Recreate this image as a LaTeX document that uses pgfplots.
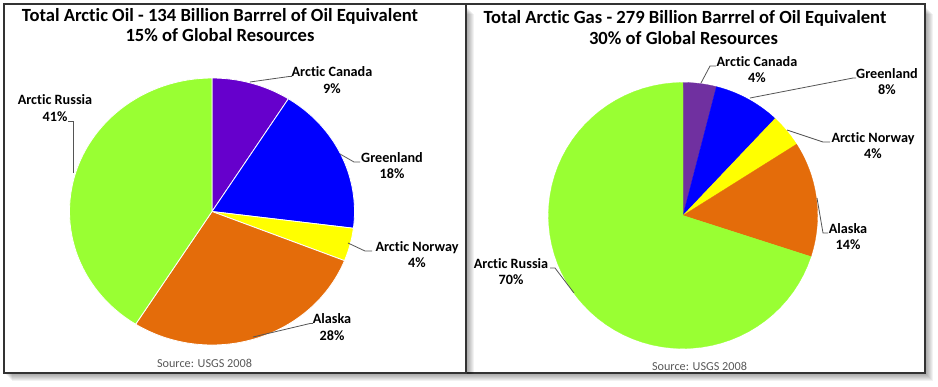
\documentclass[border=0pt]{standalone}
\usepackage{pgfplots}
\pgfplotsset{compat=1.18}
\usepackage{fontspec}
\setmainfont{Carlito}[Ligatures=NoCommon]
\definecolor{oilcan}{HTML}{6600CC}
\definecolor{gascan}{HTML}{7030A0}
\definecolor{pblue}{HTML}{0000FF}
\definecolor{pyellow}{HTML}{FFFF00}
\definecolor{porange}{HTML}{E46C0A}
\definecolor{pgreen}{HTML}{99FF33}
\definecolor{lead}{HTML}{555555}
\definecolor{frame}{HTML}{333333}
\definecolor{srcgray}{HTML}{595959}
% data: shares in percent (Canada, Greenland, Norway, Alaska, Russia)
\def\oilCanada{9}\def\oilGreenland{18}\def\oilNorway{4}\def\oilAlaska{28}\def\oilRussia{41}
\def\gasCanada{4}\def\gasGreenland{8}\def\gasNorway{4}\def\gasAlaska{14}\def\gasRussia{70}
% slice: color, cx, cy, rx, ry, a0, a1, edge style
\newcommand\slice[8]{%
  \addplot[fill=#1, #8, domain=#6:#7, samples=60, variable=\t]
    ({#2+#4*sin(\t)},{#3-#5*cos(\t)}) -- (axis cs:#2,#3) -- cycle;}
\tikzset{ttl/.style={anchor=base, font=\fontsize{18.6}{20}\selectfont\bfseries},
  lab/.style={anchor=base, font=\fontsize{14.2}{15}\selectfont\bfseries},
  src/.style={anchor=base, text=srcgray, font=\fontsize{12.2}{13}\selectfont},
  ld/.style={draw=lead, line width=0.8pt}}
\begin{document}
\begin{tikzpicture}
\pgfmathsetmacro\oA{3.6*\oilCanada}
\pgfmathsetmacro\oB{\oA+3.6*\oilGreenland}
\pgfmathsetmacro\oC{\oB+3.6*\oilNorway}
\pgfmathsetmacro\oD{\oC+3.6*\oilAlaska}
\pgfmathsetmacro\oE{\oD+3.6*\oilRussia}
\pgfmathsetmacro\gA{3.6*\gasCanada}
\pgfmathsetmacro\gB{\gA+3.6*\gasGreenland}
\pgfmathsetmacro\gC{\gB+3.6*\gasNorway}
\pgfmathsetmacro\gD{\gC+3.6*\gasAlaska}
\pgfmathsetmacro\gE{\gD+3.6*\gasRussia}
\pgfplotsset{pieaxis/.style={x=1pt, y=1pt, xmin=0, xmax=938, ymin=0, ymax=386,
  y dir=reverse, hide axis, clip=false}}
% ---------------- left chart: oil ----------------
\begin{axis}[pieaxis]
\fill[white] (axis cs:0,0) rectangle (axis cs:938,386);
% right panel shadow + frame
\fill[black,opacity=0.05] (axis cs:467,7) rectangle (axis cs:926,374);
\fill[black,opacity=0.05] (axis cs:468,8) rectangle (axis cs:927,375);
\fill[black,opacity=0.05] (axis cs:469,9) rectangle (axis cs:928,376);
\fill[black,opacity=0.05] (axis cs:470,10) rectangle (axis cs:929,377);
\fill[black,opacity=0.05] (axis cs:471,11) rectangle (axis cs:930,378);
\fill[black,opacity=0.05] (axis cs:472,12) rectangle (axis cs:931,379);
\fill[black,opacity=0.05] (axis cs:473,13) rectangle (axis cs:932,380);
\fill[black,opacity=0.05] (axis cs:474,14) rectangle (axis cs:933,381);
\filldraw[fill=white, draw=frame, line width=1.2pt] (axis cs:466,4) rectangle (axis cs:925,373);
% left panel shadow + frame
\fill[black,opacity=0.05] (axis cs:5,7) rectangle (axis cs:467,374);
\fill[black,opacity=0.05] (axis cs:6,8) rectangle (axis cs:468,375);
\fill[black,opacity=0.05] (axis cs:7,9) rectangle (axis cs:469,376);
\fill[black,opacity=0.05] (axis cs:8,10) rectangle (axis cs:470,377);
\fill[black,opacity=0.05] (axis cs:9,11) rectangle (axis cs:471,378);
\fill[black,opacity=0.05] (axis cs:10,12) rectangle (axis cs:472,379);
\fill[black,opacity=0.05] (axis cs:11,13) rectangle (axis cs:473,380);
\fill[black,opacity=0.05] (axis cs:12,14) rectangle (axis cs:474,381);
\filldraw[fill=white, draw=frame, line width=1.2pt] (axis cs:4,4) rectangle (axis cs:466,373);
% pie
\slice{oilcan}{212}{211.5}{142.5}{133.5}{0}{\oA}{draw=white, line width=0.8pt}
\slice{pblue}{212}{211.5}{142.5}{133.5}{\oA}{\oB}{draw=white, line width=0.8pt}
\slice{pyellow}{212}{211.5}{142.5}{133.5}{\oB}{\oC}{draw=white, line width=0.8pt}
\slice{porange}{212}{211.5}{142.5}{133.5}{\oC}{\oD}{draw=white, line width=0.8pt}
\slice{pgreen}{212}{211.5}{142.5}{133.5}{\oD}{\oE}{draw=white, line width=0.8pt}
% titles
\node[ttl] at (axis cs:220,21) {Total Arctic Oil - 134 Billion Barrrel of Oil Equivalent};
\node[ttl] at (axis cs:220,41.5) {15\% of Global Resources};
% leaders
\draw[ld] (axis cs:250,82) -- (axis cs:289,76.5) -- (axis cs:292,76.5);
\draw[ld] (axis cs:340,154) -- (axis cs:354,162) -- (axis cs:360,162);
\draw[ld] (axis cs:348,243) -- (axis cs:365,251) -- (axis cs:372,251);
\draw[ld] (axis cs:253,337) -- (axis cs:310,323.5) -- (axis cs:313,323.5);
\draw[ld] (axis cs:68,121) -- (axis cs:73.3,121) -- (axis cs:73.3,173);
% labels
\node[lab] at (axis cs:332,76.5) {Arctic Canada};
\node[lab] at (axis cs:332,93) {\oilCanada\%};
\node[lab] at (axis cs:392,162) {Greenland};
\node[lab] at (axis cs:392,178.5) {\oilGreenland\%};
\node[lab] at (axis cs:417,251) {Arctic Norway};
\node[lab] at (axis cs:417,267.5) {\oilNorway\%};
\node[lab] at (axis cs:332,323.5) {Alaska};
\node[lab] at (axis cs:332,340) {\oilAlaska\%};
\node[lab] at (axis cs:55,104.5) {Arctic Russia};
\node[lab] at (axis cs:55,121) {\oilRussia\%};
\node[src] at (axis cs:204.5,367.5) {Source: USGS 2008};
\end{axis}
% ---------------- right chart: gas ----------------
\begin{axis}[pieaxis]
\slice{gascan}{683}{215.5}{134.5}{133}{0}{\gA}{draw=gascan, line width=0.3pt}
\slice{pblue}{683}{215.5}{134.5}{133}{\gA}{\gB}{draw=pblue, line width=0.3pt}
\slice{pyellow}{683}{215.5}{134.5}{133}{\gB}{\gC}{draw=pyellow, line width=0.3pt}
\slice{porange}{683}{215.5}{134.5}{133}{\gC}{\gD}{draw=porange, line width=0.3pt}
\slice{pgreen}{683}{215.5}{134.5}{133}{\gD}{\gE}{draw=pgreen, line width=0.3pt}
\node[ttl] at (axis cs:685,23.5) {Total Arctic Gas - 279 Billion Barrrel of Oil Equivalent};
\node[ttl] at (axis cs:683.5,44) {30\% of Global Resources};
\draw[ld] (axis cs:701,83) -- (axis cs:710,66) -- (axis cs:716,66);
\draw[ld] (axis cs:750,98) -- (axis cs:853,78) -- (axis cs:856,78);
\draw[ld] (axis cs:787,130) -- (axis cs:823,142) -- (axis cs:830,142);
\draw[ld] (axis cs:817,198) -- (axis cs:823,233) -- (axis cs:828,233);
\draw[ld] (axis cs:550,268) -- (axis cs:555,268) -- (axis cs:574,293);
\node[lab] at (axis cs:757,66) {Arctic Canada};
\node[lab] at (axis cs:757,82.5) {\gasCanada\%};
\node[lab] at (axis cs:887,78) {Greenland};
\node[lab] at (axis cs:887,94.5) {\gasGreenland\%};
\node[lab] at (axis cs:873,142) {Arctic Norway};
\node[lab] at (axis cs:873,158.5) {\gasNorway\%};
\node[lab] at (axis cs:848,233) {Alaska};
\node[lab] at (axis cs:848,249.5) {\gasAlaska\%};
\node[lab] at (axis cs:511,268) {Arctic Russia};
\node[lab] at (axis cs:511,284.5) {\gasRussia\%};
\node[src] at (axis cs:699.5,370) {Source: USGS 2008};
\end{axis}
\end{tikzpicture}
\end{document}
